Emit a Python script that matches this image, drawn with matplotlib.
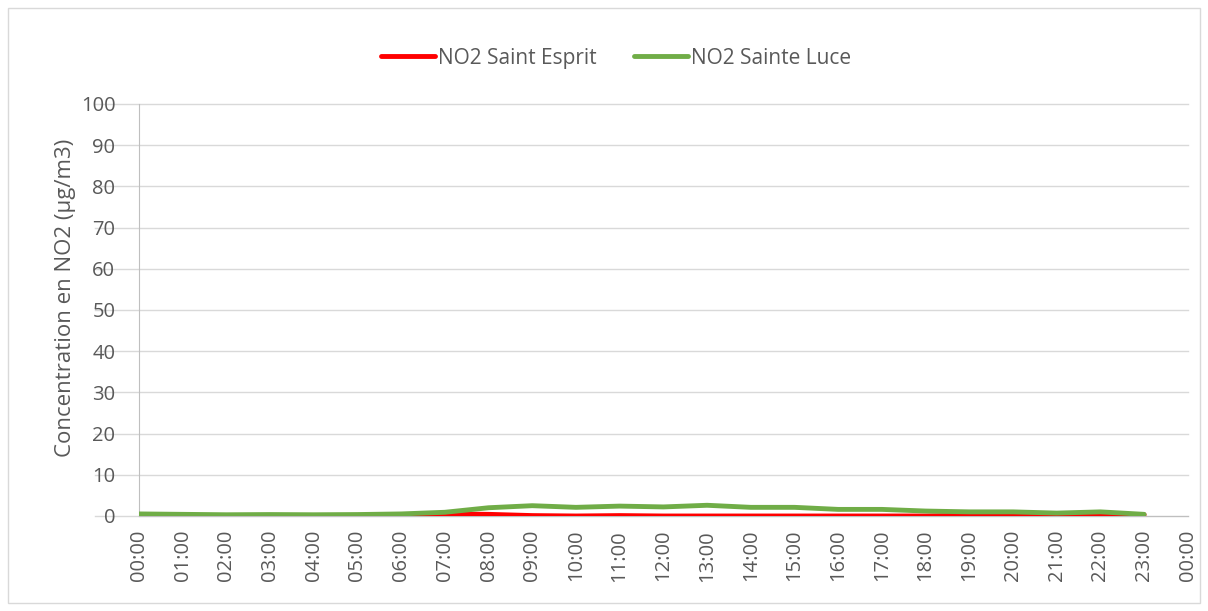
import matplotlib.pyplot as plt
import numpy as np
from matplotlib.patches import Rectangle

# hourly NO2 concentrations (ug/m3)
hours = list(range(24))
tick_labels = [f"{h:02d}:00" for h in range(24)] + ["00:00"]
y_ticks = list(range(0, 101, 10))
no2_saint_esprit = [0.2, 0.1, 0.1, 0.1, 0.1, 0.1, 0.2, 0.5, 0.4, 0.1, 0.0, 0.1, 0.0, 0.0,
                    0.0, 0.0, 0.0, 0.0, 0.0, 0.2, 0.3, 0.2, 0.3, 0.3]
no2_sainte_luce = [0.5, 0.4, 0.3, 0.35, 0.3, 0.35, 0.5, 0.9, 2.0, 2.5, 2.1, 2.4, 2.2, 2.6,
                   2.1, 2.1, 1.6, 1.6, 1.2, 1.0, 1.0, 0.7, 1.0, 0.4]

plt.rcParams['font.family'] = ['Open Sans', 'DejaVu Sans']
text_color = "#595959"
grid_color = "#d9d9d9"

fig = plt.figure(figsize=(12.08, 6.11), dpi=100)
ax = fig.add_axes([0.115, 0.1555, 0.8683, 0.6743])

# chart border
fig.patches.append(Rectangle((8 / 1208, 8 / 611), 1192 / 1208, 595 / 611,
                             transform=fig.transFigure, fill=False,
                             edgecolor="#d9d9d9", linewidth=1))

# gridlines run on past the axis, behind the labels
ytrans = ax.get_yaxis_transform()
for yv in y_ticks:
    ax.plot([-0.042, 1.0], [yv, yv], transform=ytrans, color=grid_color,
            linewidth=1, clip_on=False, zorder=0.5)

ax.plot(hours, no2_saint_esprit, color="#ff0000", linewidth=3.5,
        solid_capstyle="round", solid_joinstyle="round", label="NO2 Saint Esprit", zorder=3)
ax.plot(hours, no2_sainte_luce, color="#70ad47", linewidth=3.5,
        solid_capstyle="round", solid_joinstyle="round", label="NO2 Sainte Luce", zorder=4)

ax.set_xlim(0, 24)
ax.set_ylim(0, 100)
ax.set_xticks(range(25))
ax.set_xticklabels(tick_labels, rotation=90)
ax.set_yticks(y_ticks)

for side in ["top", "right"]:
    ax.spines[side].set_visible(False)
ax.spines["left"].set_color("#bfbfbf")
ax.spines["bottom"].set_color("#bfbfbf")
ax.tick_params(axis="y", length=0, labelsize=14.5, labelcolor=text_color, pad=17)
ax.tick_params(axis="x", length=0, labelsize=14.5, labelcolor=text_color, pad=10)

ax.set_ylabel("Concentration en NO2 (µg/m3)", fontsize=16, color=text_color)
ax.yaxis.set_label_coords(-0.060, 0.529)

fig.legend(loc="center", bbox_to_anchor=(0.51, 0.905), ncol=2, frameon=False,
           fontsize=15, labelcolor=text_color, handlelength=2.6, handletextpad=0.15,
           columnspacing=1.8)

fig.savefig("out.png", dpi=100)
